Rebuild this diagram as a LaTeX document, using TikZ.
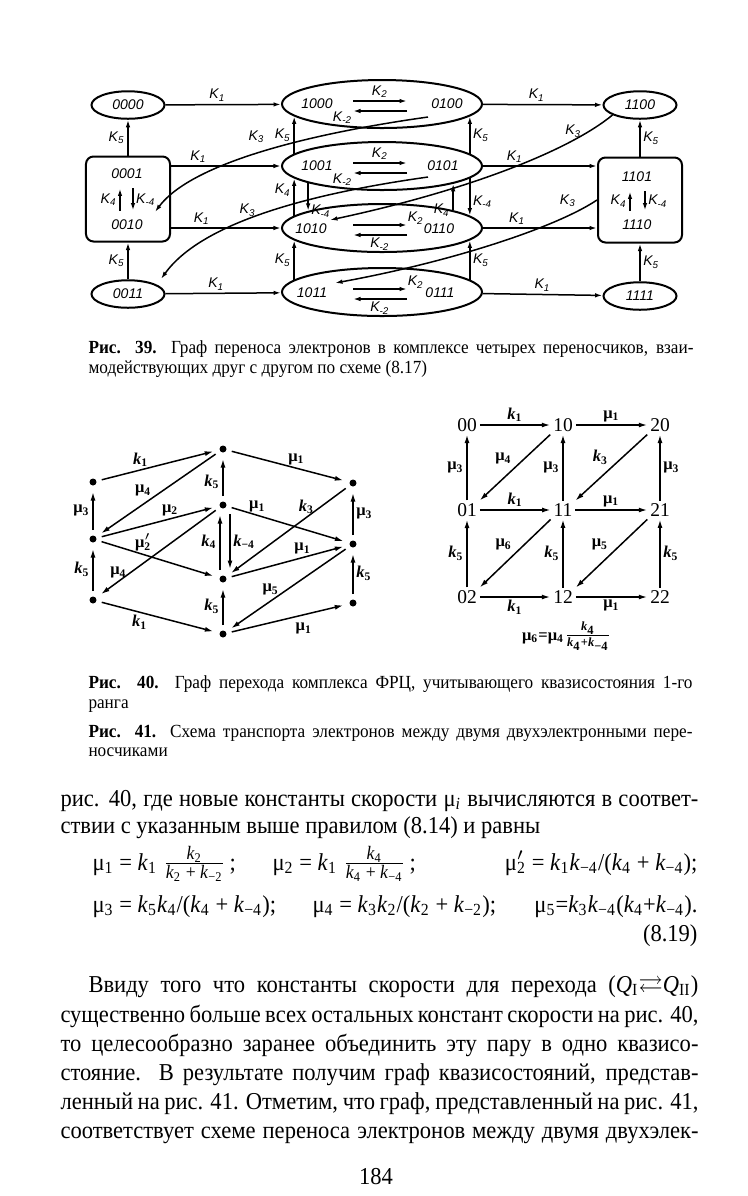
\documentclass[tikz,border=0pt]{standalone}
\usepackage{amsmath}
\usepackage{amssymb}
\usepackage{fontspec}
\setmainfont{Liberation Serif}
\setsansfont{Liberation Sans}
\newfontfamily\narrowserif[FakeStretch=0.93]{Liberation Serif}
\usetikzlibrary{
  arrows.meta,
  positioning,
  shapes.geometric
}
\newcommand\kr[1]{\textit{k}\textsubscript{#1}}
\newcommand\mr[1]{μ\textsubscript{#1}}
\newcommand\kk[1]{K\textsubscript{#1}}
\newcommand\gfont{\sffamily\itshape\fontsize{5.6}{6}\selectfont}
\newcommand\lfont{\bfseries\fontsize{6.6}{7}\selectfont}
\newcommand\capfont{\narrowserif\fontsize{7.4}{8.5}\selectfont}
\newcommand\txtfont{\narrowserif\fontsize{9.7}{11.6}\selectfont}
\newcommand\fsz{\fontsize{7.6}{8}\selectfont}
\tikzset{
  statenode/.style={draw,thick,ellipse,minimum width=29.2pt,minimum height=11pt,inner sep=0pt,font=\gfont},
  pairnode/.style={draw,thick,ellipse,minimum width=80pt,minimum height=19.2pt,inner sep=0pt},
  pairbox/.style={draw,thick,rounded corners=3pt,minimum width=33.6pt,minimum height=34pt,inner sep=0pt},
  statetext/.style={inner sep=0pt,font=\gfont},
  klabel/.style={inner sep=1pt,font=\gfont},
  flow/.style={-{Latex[length=3pt,width=1.8pt]},semithick},
  dot/.style={circle,fill,inner sep=0pt,minimum size=2.8pt},
  trans/.style={-{Latex[length=3.4pt,width=2pt]},semithick,shorten <=2pt,shorten >=2.4pt},
  rlabel/.style={inner sep=1pt,font=\lfont},
  qnode/.style={inner sep=1pt,font=\fontsize{7.8}{8}\selectfont},
  qarrow/.style={-{Latex[length=3.4pt,width=2pt]},semithick},
  textline/.style={anchor=base west,inner sep=0pt,font=\txtfont},
  capline/.style={anchor=base west,inner sep=0pt,font=\capfont}
}

\begin{document}
\begin{tikzpicture}[x=0.4pt,y=-0.4pt]
\fill[white] (0,0) rectangle (748,1196);
\useasboundingbox (0,0) rectangle (748,1196);

% Fig. 39
\node[statenode] (s0000) at (128,105) {0000};
\node[pairbox] (b0001) at (128,199) {};
\node[statetext] (t0001) at (127,174) {0001};
\node[statetext] (t0010) at (127,225) {0010};
\node[statenode] (s0011) at (128,294) {0011};
\foreach \i/\y in {1/104,2/166,3/228,4/292}
  \node[pairnode] (e\i) at (382,\y) {};
\node[statetext] (t1000) at (317,104) {1000};
\node[statetext] (t0100) at (447,104) {0100};
\node[statetext] (t1001) at (317,166) {1001};
\node[statetext] (t0101) at (443,166) {0101};
\node[statetext] (t1010) at (311,229) {1010};
\node[statetext] (t0110) at (439,229) {0110};
\node[statetext] (t1011) at (312,293) {1011};
\node[statetext] (t0111) at (440,293) {0111};
\node[statenode] (s1100) at (640,105) {1100};
\node[pairbox] (b1101) at (640,200) {};
\node[statetext] (t1101) at (637,177) {1101};
\node[statetext] (t1110) at (637,225) {1110};
\node[statenode] (s1111) at (640,296) {1111};

\draw[flow] (s0000) -- node[klabel,above,pos=0.45]{\kk1} (e1);
\draw[flow] (b0001.east |- e2) -- node[klabel,above,pos=0.25]{\kk1} (e2);
\draw[flow] (b0001.east |- e3) -- node[klabel,above,pos=0.28]{\kk1} (e3);
\draw[flow] (s0011) -- node[klabel,above,pos=0.44]{\kk1} (e4);
\draw[flow] (e1) -- node[klabel,above,pos=0.45]{\kk1} (s1100);
\draw[flow] (e2) -- node[klabel,above,pos=0.28]{\kk1} (b1101.west |- e2);
\draw[flow] (e3) -- node[klabel,above,pos=0.3]{\kk1} (b1101.west |- e3);
\draw[flow] (e4) -- node[klabel,above,pos=0.5]{\kk1} (s1111);

\draw[flow] (b0001) -- node[klabel,left]{\kk5} (s0000);
\draw[flow] (s0011) -- node[klabel,left]{\kk5} (b0001);
\draw[flow] (b1101) -- node[klabel,right]{\kk5} (s1100);
\draw[flow] (s1111) -- node[klabel,right]{\kk5} (b1101);

\draw[flow,shorten <=3.6pt,shorten >=3.6pt] ([xshift=-2.8pt]t0010.north) -- node[klabel,left]{\kk4} ([xshift=-2.8pt]t0001.south);
\draw[flow,shorten <=3.6pt,shorten >=3.6pt] ([xshift=2.4pt]t0001.south) -- node[klabel,right]{\kk{-4}} ([xshift=2.4pt]t0010.north);
\draw[flow,shorten <=3.6pt,shorten >=3.6pt] ([xshift=-2.8pt]t1110.north) -- node[klabel,left]{\kk4} ([xshift=-2.8pt]t1101.south);
\draw[flow,shorten <=3.6pt,shorten >=3.6pt] ([xshift=3.2pt]t1101.south) -- node[klabel,right]{\kk{-4}} ([xshift=3.2pt]t1110.north);

\draw[flow] (e2.172) -- node[klabel,left]{\kk5} (e1.188);
\draw[flow] (e3.172) -- node[klabel,left,pos=0.68]{\kk4} (e2.188);
\draw[flow] (e2.193) -- node[klabel,right,pos=1]{\kk{-4}} (e3.167);
\draw[flow] (e4.172) -- node[klabel,left]{\kk5} (e3.188);
\draw[flow] (e2.8) -- node[klabel,right]{\kk5} (e1.-8);
\draw[flow] (e2.-8) -- node[klabel,right,pos=0.63]{\kk{-4}} (e3.8);
\draw[flow] (e3.14) -- node[klabel,left,pos=0]{\kk4} (e2.-14);
\draw[flow] (e4.8) -- node[klabel,right]{\kk5} (e3.-8);

\foreach \i in {1,2} {
  \draw[flow] ([xshift=-11.6pt,yshift=1.2pt]e\i.center) -- node[klabel,above]{\kk2} ([xshift=10pt,yshift=1.2pt]e\i.center);
  \draw[flow] ([xshift=10pt,yshift=-2.8pt]e\i.center) -- node[klabel,below left,pos=1,inner sep=0pt]{\kk{-2}} ([xshift=-11.6pt,yshift=-2.8pt]e\i.center);
}
\foreach \i in {3,4} {
  \draw[flow] ([xshift=-11.6pt,yshift=1.2pt]e\i.center) -- node[klabel,above right,pos=1,inner sep=0pt]{\kk2} ([xshift=10pt,yshift=1.2pt]e\i.center);
  \draw[flow] ([xshift=10pt,yshift=-2.8pt]e\i.center) -- node[klabel,below]{\kk{-2}} ([xshift=-11.6pt,yshift=-2.8pt]e\i.center);
}

% K3 transfers
\coordinate (k3a) at (428,117);
\coordinate (k3b) at (155,212);
\coordinate (k3c) at (428,177);
\coordinate (k3d) at (161,279);
\coordinate (k3e) at (330,220);
\coordinate (k3f) at (335,283);
\draw[flow] (k3a) .. controls (300,135) and (190,165) .. (k3b) node[klabel,pos=0.5,above=3pt]{\kk3};
\draw[flow] (k3c) .. controls (300,195) and (200,225) .. (k3d) node[klabel,pos=0.55,above]{\kk3};
\draw[flow] (s1100.-160) .. controls (570,150) and (470,190) .. (k3e) node[klabel,pos=0.15,left=2pt]{\kk3};
\draw[flow] (b1101.west) .. controls (555,228) and (450,262) .. (k3f) node[klabel,pos=0.12,above left]{\kk3};

\node[capline] (cap39a) at (88,353) {\makebox[242pt][s]{\textbf{Рис. 39.} Граф переноса электронов в комплексе четырех переносчиков, взаи-}};
\node[capline] (cap39b) at (88,373) {модействующих друг с другом по схеме (8.17)};

% Fig. 40
\foreach \n/\x/\y in {a/93/482,b/223/449,c/353/483,d/93/539,e/223/505,f/353/544,g/93/600,h/223/579,i/353/603,j/223/634}
  \node[dot] (q\n) at (\x,\y) {};
\draw[trans] (qa) -- node[rlabel,above,pos=0.36]{\kr1} (qb);
\draw[trans] (qb) -- node[rlabel,above,pos=0.57]{\mr1} (qc);
\draw[trans] (qd) -- node[rlabel,left]{\mr3} (qa);
\draw[trans] (qb) -- node[rlabel,above=2pt,pos=0.62]{\mr4} (qd);
\draw[trans] (qd) -- node[rlabel,above,pos=0.6]{\mr2} (qe);
\draw[trans] (qe) -- node[rlabel,left,pos=0.4]{\kr5} (qb);
\draw[trans] (qe) -- node[rlabel,above,pos=0.25]{\mr1} (qf);
\draw[trans] (qc) -- node[rlabel,above,pos=0.35]{\kr3} (qh);
\draw[trans] (qf) -- node[rlabel,right]{\mr3} (qc);
\draw[trans] (qd) -- node[rlabel,above,pos=0.38]{μ\rlap{\textsuperscript{$\prime$}}\textsubscript{2}} (qh);
\draw[trans] ([xshift=-1.2pt]qh.north) -- node[rlabel,left]{\kr4} ([xshift=-1.2pt]qe.south);
\draw[trans] ([xshift=2.8pt]qe.south) -- node[rlabel,right]{\kr{−4}} ([xshift=2.8pt]qh.north);
\draw[trans] (qh) -- node[rlabel,above,pos=0.62]{\mr1} (qf);
\draw[trans] (qg) -- node[rlabel,left]{\kr5} (qd);
\draw[trans] (qe) -- node[rlabel,above,pos=0.82]{\mr4} (qg);
\draw[trans] (qf) -- node[rlabel,above=1pt,pos=0.64]{\mr5} (qj);
\draw[trans] (qi) -- node[rlabel,right]{\kr5} (qf);
\draw[trans] (qj) -- node[rlabel,left]{\kr5} (qh);
\draw[trans] (qg) -- node[rlabel,below,pos=0.35]{\kr1} (qj);
\draw[trans] (qj) -- node[rlabel,below=2pt,pos=0.63]{\mr1} (qi);

% Fig. 41
\foreach \n/\x/\y in {00/467/425,10/563/425,20/660/425,01/467/510,11/563/510,21/660/510,02/467/597,12/563/597,22/660/597}
  \node[qnode] (n\n) at (\x,\y) {\n};
\draw[qarrow] (n00) -- node[rlabel,above]{\kr1} (n10);
\draw[qarrow] (n10) -- node[rlabel,above]{\mr1} (n20);
\draw[qarrow] (n01) -- node[rlabel,left]{\mr3} (n00);
\draw[qarrow] (n11) -- node[rlabel,left]{\mr3} (n10);
\draw[qarrow] (n21) -- node[rlabel,right]{\mr3} (n20);
\draw[qarrow] (n01) -- node[rlabel,above]{\kr1} (n11);
\draw[qarrow] (n11) -- node[rlabel,above]{\mr1} (n21);
\draw[qarrow] (n02) -- node[rlabel,left]{\kr5} (n01);
\draw[qarrow] (n12) -- node[rlabel,left]{\kr5} (n11);
\draw[qarrow] (n22) -- node[rlabel,right]{\kr5} (n21);
\draw[qarrow] (n02) -- node[rlabel,below]{\kr1} (n12);
\draw[qarrow] (n12) -- node[rlabel,below]{\mr1} (n22);
\draw[qarrow] (n10.south west) -- node[rlabel,above left]{\mr4} (n01.north east);
\draw[qarrow] (n20.south west) -- node[rlabel,above left]{\kr3} (n11.north east);
\draw[qarrow] (n11.south west) -- node[rlabel,above left]{\mr6} (n02.north east);
\draw[qarrow] (n21.south west) -- node[rlabel,above left]{\mr5} (n12.north east);
\node[rlabel] (mu6) at (567,636) {\mr6=\mr4\(\frac{\mbox{\fontsize{5}{5}\selectfont\kr4}}{\mbox{\fontsize{5}{5}\selectfont\kr4+\kr{−4}}}\)};

\node[capline] (cap40a) at (88,688) {\makebox[241.6pt][s]{\textbf{Рис. 40.} Граф перехода комплекса ФРЦ, учитывающего квазисостояния 1-го}};
\node[capline] (cap40b) at (88,708) {ранга};
\node[capline] (cap41a) at (88,737) {\makebox[241.6pt][s]{\textbf{Рис. 41.} Схема транспорта электронов между двумя двухэлектронными пере-}};
\node[capline] (cap41b) at (88,756) {носчиками};

% text
\node[textline] (line1) at (60,806) {\makebox[255.2pt][s]{рис. 40, где новые константы скорости μ\textsubscript{\textit{i}} вычисляются в соответ-}};
\node[textline] (line2) at (60,833) {ствии с указанным выше правилом (8.14) и равны};
\node[textline] (eqa) at (92,870) {\mr1 = \kr1\ \(\frac{\mbox{\fsz\kr2}}{\mbox{\fsz\kr2 + \kr{−2}}}\)\,;};
\node[textline] (eqb) at (272,870) {\mr2 = \kr1\ \(\frac{\mbox{\fsz\kr4}}{\mbox{\fsz\kr4 + \kr{−4}}}\)\,;};
\node[textline,anchor=base east] (eqc) at (698,870) {μ\rlap{\textsuperscript{$\prime$}}\textsubscript{2} = \kr1\kr{−4}/(\kr4 + \kr{−4});};
\node[textline] (eqd) at (92,912) {\mr3 = \kr5\kr4/(\kr4 + \kr{−4});};
\node[textline] (eqe) at (312,912) {\mr4 = \kr3\kr2/(\kr2 + \kr{−2});};
\node[textline,anchor=base east] (eqf) at (698,912) {\mr5=\kr3\kr{−4}(\kr4+\kr{−4}).};
\node[textline,anchor=base east] (eqno) at (698,941) {(8.19)};
\node[textline] (par1) at (88,992) {\makebox[244pt][s]{Ввиду того что константы скорости для перехода (\textit{Q}\textsubscript{I}\(\rightleftarrows\)\textit{Q}\textsubscript{II})}};
\node[textline] (par2) at (60,1022) {\makebox[255.2pt][s]{существенно больше всех остальных констант скорости на рис. 40,}};
\node[textline] (par3) at (60,1051) {\makebox[255.2pt][s]{то целесообразно заранее объединить эту пару в одно квазисо-}};
\node[textline] (par4) at (60,1080) {\makebox[255.2pt][s]{стояние. В результате получим граф квазисостояний, представ-}};
\node[textline] (par5) at (60,1109) {\makebox[255.2pt][s]{ленный на рис. 41. Отметим, что граф, представленный на рис. 41,}};
\node[textline] (par6) at (60,1138) {\makebox[255.2pt][s]{соответствует схеме переноса электронов между двумя двухэлек-}};
\node[textline,anchor=base] (pageno) at (376,1184) {184};
\end{tikzpicture}
\end{document}
